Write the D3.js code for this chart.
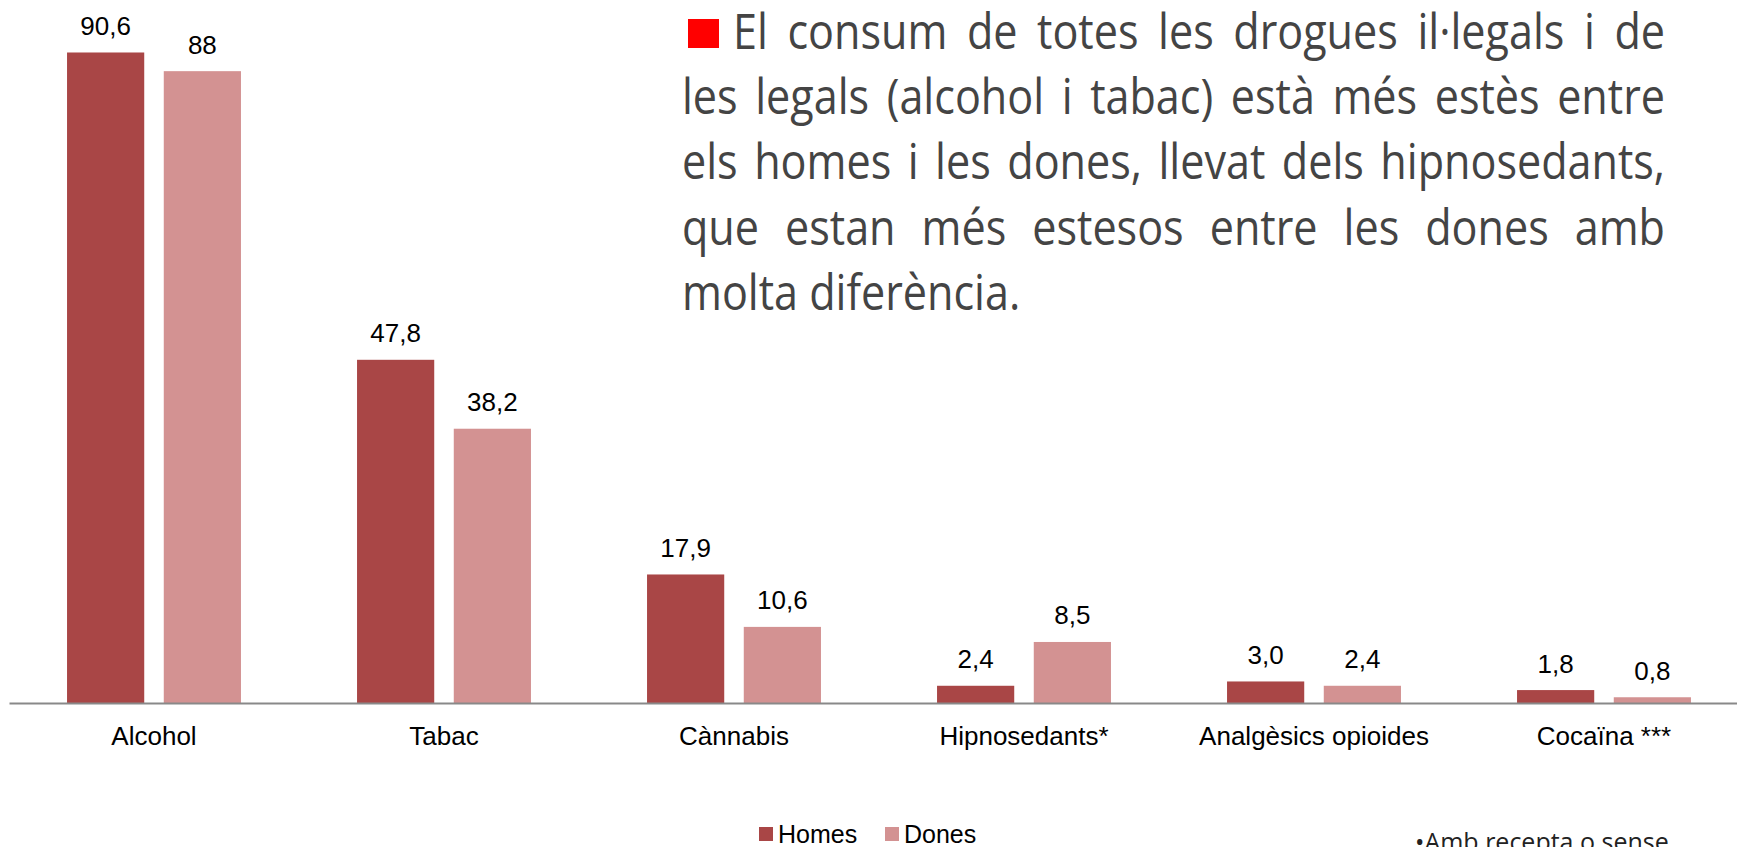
<!DOCTYPE html>
<html>
<head>
<meta charset="utf-8">
<script src="https://cdn.jsdelivr.net/npm/d3@7"></script>
<style>
  body { margin: 0; background: #fff; }
  svg { display: block; }
</style>
</head>
<body>
<div id="chart"></div>
<script>
// Consum de drogues per sexe (%)
const width = 1737;
const height = 847;

const categories = ['Alcohol', 'Tabac', 'Cànnabis', 'Hipnosedants*', 'Analgèsics opioides', 'Cocaïna ***'];
const series = ['Homes', 'Dones'];
const homes = [90.6, 47.8, 17.9, 2.4, 3.0, 1.8];
const dones = [88, 38.2, 10.6, 8.5, 2.4, 0.8];
const homesLabels = ['90,6', '47,8', '17,9', '2,4', '3,0', '1,8'];
const donesLabels = ['88', '38,2', '10,6', '8,5', '2,4', '0,8'];

const titleLines = [
  'El consum de totes les drogues il·legals i de',
  'les legals (alcohol i tabac) està més estès entre',
  'els homes i les dones, llevat dels hipnosedants,',
  'que estan més estesos entre les dones amb',
  'molta diferència.',
];
const footnote = '•Amb recepta o sense';

const colors = { Homes: '#a94646', Dones: '#d39292' };
const labelFont = '"Liberation Sans", Arial, sans-serif';
const titleFont = '"Open Sans", sans-serif';

const svg = d3.select('#chart')
  .append('svg')
  .attr('width', width)
  .attr('height', height);

const x = d3.scaleBand().domain(categories).range([9, 1749]);
const xInner = d3.scaleBand().domain(series).range([0, x.bandwidth()])
  .paddingInner(0.202).paddingOuter(0.6);
const y = d3.scaleLinear().domain([0, 100]).range([703, -15]);

const rows = categories.map((c, i) => ({
  category: c,
  values: [
    { key: 'Homes', value: homes[i], label: homesLabels[i] },
    { key: 'Dones', value: dones[i], label: donesLabels[i] },
  ],
}));

// bars
const groups = svg.selectAll('g.cat')
  .data(rows)
  .enter()
  .append('g')
  .attr('class', 'cat')
  .attr('transform', d => `translate(${x(d.category)},0)`);

groups.selectAll('rect')
  .data(d => d.values)
  .enter()
  .append('rect')
  .attr('x', d => xInner(d.key))
  .attr('y', d => y(d.value))
  .attr('width', xInner.bandwidth())
  .attr('height', d => y(0) - y(d.value))
  .attr('fill', d => colors[d.key]);

groups.selectAll('text.val')
  .data(d => d.values)
  .enter()
  .append('text')
  .attr('class', 'val')
  .attr('x', d => xInner(d.key) + xInner.bandwidth() / 2)
  .attr('y', d => y(d.value) - 17.5)
  .attr('text-anchor', 'middle')
  .style('font-family', labelFont)
  .style('font-size', '26px')
  .attr('fill', '#000')
  .text(d => d.label);

// x axis
const xAxis = d3.axisBottom(x).tickSize(0).tickSizeOuter(0);
const axisG = svg.append('g')
  .attr('transform', `translate(0,${y(0)})`)
  .call(xAxis);
axisG.select('.domain')
  .attr('stroke', '#898989')
  .attr('stroke-width', 2);
axisG.selectAll('text')
  .attr('y', 42)
  .attr('dy', 0)
  .style('font-family', labelFont)
  .style('font-size', '26px')
  .attr('fill', '#000');

// legend
const legend = svg.append('g').attr('transform', 'translate(759,827)');
const legendX = [0, 126];
series.forEach((s, i) => {
  legend.append('rect')
    .attr('x', legendX[i])
    .attr('y', 0)
    .attr('width', 14)
    .attr('height', 14)
    .attr('fill', colors[s]);
  legend.append('text')
    .attr('x', legendX[i] + 19)
    .attr('y', 16)
    .style('font-family', labelFont)
    .style('font-size', '25px')
    .attr('fill', '#000')
    .text(s);
});

// title block (justified)
svg.append('rect')
  .attr('x', 688)
  .attr('y', 19)
  .attr('width', 31)
  .attr('height', 29)
  .attr('fill', '#ff0000');

const sx = 0.88;
const titleG = svg.append('g').attr('transform', `scale(${sx},1)`);
const rightEdge = 1665;
titleLines.forEach((line, i) => {
  const x0 = i === 0 ? 733 : 682;
  const t = titleG.append('text')
    .attr('x', x0 / sx)
    .attr('y', 49 + i * 65.2)
    .style('font-family', titleFont)
    .style('font-size', '49px')
    .attr('fill', '#444')
    .text(line);
  if (i < titleLines.length - 1) {
    const natural = t.node().getComputedTextLength();
    const spaces = line.split(' ').length - 1;
    const extra = ((rightEdge - x0) / sx - natural) / spaces;
    t.style('word-spacing', `${extra}px`);
  }
});

// footnote
svg.append('text')
  .attr('x', 1415)
  .attr('y', 851)
  .style('font-family', titleFont)
  .style('font-size', '25px')
  .attr('fill', '#222')
  .text(footnote);
</script>
</body>
</html>
